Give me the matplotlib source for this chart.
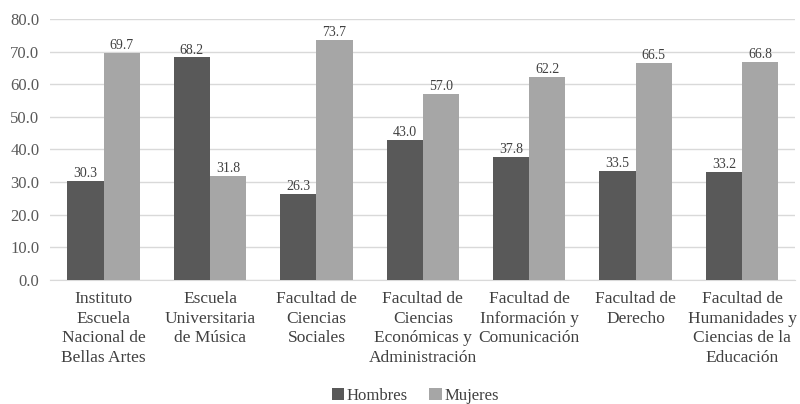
import numpy as np
import matplotlib.pyplot as plt

categories = [
    "Instituto\nEscuela\nNacional de\nBellas Artes",
    "Escuela\nUniversitaria\nde Música",
    "Facultad de\nCiencias\nSociales",
    "Facultad de\nCiencias\nEconómicas y\nAdministración",
    "Facultad de\nInformación y\nComunicación",
    "Facultad de\nDerecho",
    "Facultad de\nHumanidades y\nCiencias de la\nEducación",
]
hombres = [30.3, 68.2, 26.3, 43.0, 37.8, 33.5, 33.2]
mujeres = [69.7, 31.8, 73.7, 57.0, 62.2, 66.5, 66.8]
yticks = [0, 10, 20, 30, 40, 50, 60, 70, 80]

plt.rcParams['font.family'] = ['Liberation Serif', 'DejaVu Serif']
text_col = '#595959'

fig = plt.figure(figsize=(8, 4.04), dpi=100)
ax = fig.add_axes([0.063, 0.307, 0.931, 0.646])

x = np.arange(len(categories))
w = 0.34
b1 = ax.bar(x - w / 2, hombres, w, color='#595959', label='Hombres', zorder=3)
b2 = ax.bar(x + w / 2, mujeres, w, color='#a6a6a6', label='Mujeres', zorder=3)

for bars, vals in ((b1, hombres), (b2, mujeres)):
    for r, v in zip(bars, vals):
        ax.text(r.get_x() + r.get_width() / 2, v + 0.3, f"{v:.1f}",
                ha='center', va='bottom', fontsize=10, color='#404040')

ax.set_ylim(0, 80)
ax.set_xlim(-0.5, len(categories) - 0.5)
ax.set_yticks(yticks)
ax.set_yticklabels([f"{t:.1f}" for t in yticks], fontsize=12, color=text_col)
ax.set_xticks(x)
ax.set_xticklabels(categories, fontsize=12.5, color='#404040', linespacing=1.3)
ax.tick_params(axis='both', length=0)
ax.tick_params(axis='y', pad=8)
ax.tick_params(axis='x', pad=8)
ax.grid(axis='y', color='#d9d9d9', linewidth=1, zorder=0)
for s in ['top', 'right', 'left']:
    ax.spines[s].set_visible(False)
ax.spines['bottom'].set_color('#d9d9d9')

fig.legend(handles=[b1, b2], loc='center', bbox_to_anchor=(0.519, 0.02),
           ncol=2, frameon=False, fontsize=12, handlelength=0.75, handleheight=0.75,
           handletextpad=0.15, columnspacing=1.3, labelcolor='#404040')

fig.savefig('out.png', dpi=100)
